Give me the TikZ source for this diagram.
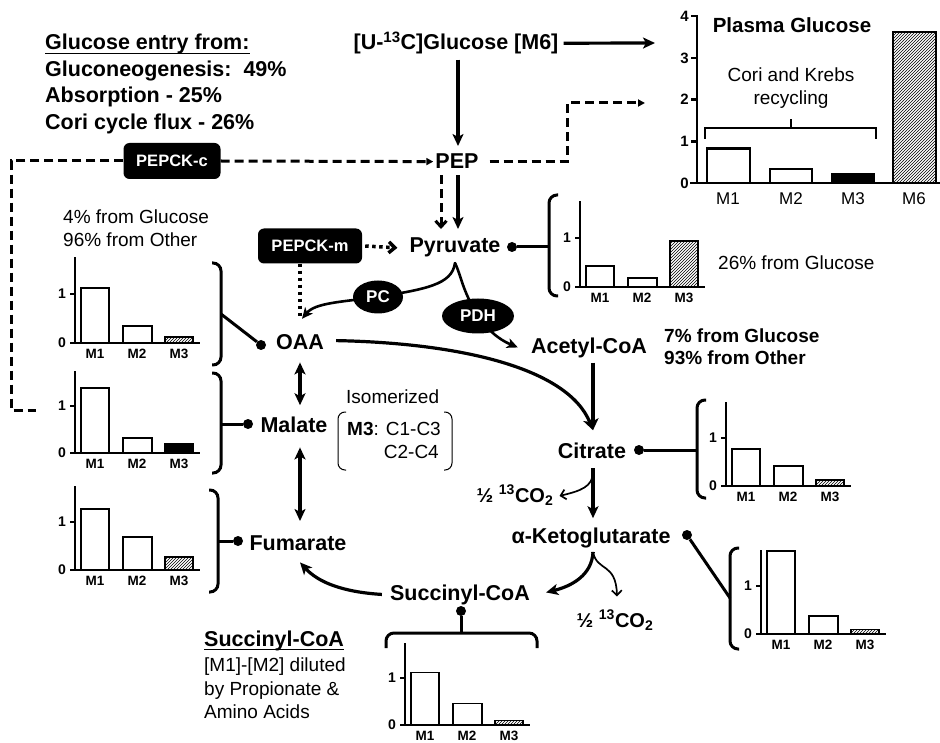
\documentclass[tikz,border=0pt]{standalone}
\usepackage{fontspec}
\setmainfont{Liberation Sans}
\usetikzlibrary{arrows.meta,patterns,shapes.geometric}
\newcommand\mybars[8]{%
 \begin{scope}[shift={(#1,#2)}]
  \draw[barbox] (6,0) rectangle (34,{-#4*#3});
  \draw[barbox] (48,0) rectangle (77,{-#5*#3});
  \draw[barbox,#7] (90,0) rectangle (118,{-#6*#3});
  \draw[chax] (0,0) -- (0,{-1.75*#3});
  \draw[chax] (-5,0) -- (125,0);
  \draw[chax] (-5,{-#3}) -- (0,{-#3});
  \node[ticklab,anchor=east] (#8t0) at (-9,0) {0};
  \node[ticklab,anchor=east] (#8t1) at (-9,{-#3}) {1};
  \node[barlab] (#8m1) at (20,10.5) {M1};
  \node[barlab] (#8m2) at (62,10.5) {M2};
  \node[barlab] (#8m3) at (104,10.5) {M3};
 \end{scope}}
\begin{document}
\begin{tikzpicture}[x=1pt,y=-1pt,
 met/.style={font=\fontsize{21.5}{25}\selectfont\bfseries, inner sep=0pt, anchor=base},
 lnote/.style={font=\fontsize{19}{23}\selectfont, inner sep=0pt, anchor=base west},
 bnote/.style={font=\fontsize{19}{23}\selectfont\bfseries, inner sep=0pt, anchor=base west},
 bhead/.style={font=\fontsize{21.5}{25}\selectfont\bfseries, inner sep=0pt, anchor=base west},
 uline/.style={line width=1.6pt},
 arr/.style={line width=3.2pt, -{Stealth[length=12pt,width=11pt,inset=3pt]}},
 darr/.style={line width=3.2pt, {Stealth[length=12pt,width=11pt,inset=3pt]}-{Stealth[length=12pt,width=11pt,inset=3pt]}},
 carr/.style={line width=2.6pt, -{Stealth[length=11pt,width=10pt,inset=3pt]}},
 tarr/.style={line width=1.7pt, -{Straight Barb[length=5pt,width=10pt]}},
 dsh/.style={line width=3pt, dash pattern=on 9pt off 5pt},
 dtip/.style={-{Triangle[length=7pt,width=7pt]}},
 vtip/.style={-{Straight Barb[length=6pt,width=11pt]}},
 dotl/.style={line width=3.5pt, dash pattern=on 3.5pt off 3.5pt},
 enz/.style={fill=black, text=white, rounded corners=6pt, font=\fontsize{16.5}{18}\selectfont\bfseries, inner sep=0pt, minimum height=36pt},
 ell/.style={ellipse, fill=black, text=white, font=\fontsize{17}{18}\selectfont\bfseries, inner sep=0pt},
 brk/.style={line width=3pt, rounded corners=8pt},
 lol/.style={line width=3pt},
 dotn/.style={circle, fill=black, inner sep=0pt, minimum size=10pt},
 chax/.style={line width=1.6pt},
 barbox/.style={line width=1.6pt, draw=black, fill=white},
 hatch/.style={pattern=north east lines},
 blk/.style={fill=black},
 ticklab/.style={font=\fontsize{14}{14}\selectfont\bfseries, inner sep=0pt},
 barlab/.style={font=\fontsize{13.5}{14}\selectfont\bfseries, inner sep=0pt},
 ptick/.style={font=\fontsize{15}{15}\selectfont\bfseries, inner sep=0pt, anchor=east},
 pbar/.style={line width=2.5pt, draw=black, fill=white},
 plab/.style={font=\fontsize{17}{17}\selectfont, inner sep=0pt},
]
\useasboundingbox (0,0) rectangle (940,743);

% ---------- texts ----------
\node[bhead] (ge0) at (45,50) {Glucose entry from:};
\draw[uline] ([yshift=-3.5pt]ge0.base west) -- ([yshift=-3.5pt]ge0.base east);
\node[bhead] (ge1) at (45,77) {Gluconeogenesis:~~49\%};
\node[bhead] (ge2) at (45,103) {Absorption - 25\%};
\node[bhead] (ge3) at (45,130) {Cori cycle flux - 26\%};

\node[lnote] (og1) at (63,224) {4\% from Glucose};
\node[lnote] (og2) at (63,247) {96\% from Other};
\node[lnote] (pg1) at (718,270) {26\% from Glucose};
\node[bnote] (ag1) at (664,342) {7\% from Glucose};
\node[bnote] (ag2) at (664,365) {93\% from Other};
\node[lnote] (iso) at (346,403) {Isomerized};
\node[lnote] (iso1) at (347,435) {\textbf{M3}: C1-C3};
\node[lnote, anchor=base east] (iso2) at (439,458) {C2-C4};
\draw[line width=1pt, rounded corners=7pt] (346,412) -- (338,412) -- (338,470) -- (346,470);
\draw[line width=1pt, rounded corners=7pt] (444,412) -- (452,412) -- (452,470) -- (444,470);

\node[bhead] (sn0) at (204,646) {Succinyl-CoA};
\draw[uline] ([yshift=-3.5pt]sn0.base west) -- ([yshift=-3.5pt]sn0.base east);
\node[lnote] (sn1) at (204,671) {[M1]-[M2] diluted};
\node[lnote] (sn2) at (204,695) {by Propionate \&};
\node[lnote] (sn3) at (204,718) {Amino Acids};

% ---------- metabolites ----------
\node[met] (glc) at (456,50) {[U-\textsuperscript{13}C]Glucose [M6]};
\node[met] (pep) at (457,169) {PEP};
\node[met] (pyr) at (455,253) {Pyruvate};
\node[met] (oaa) at (300,350) {OAA};
\node[met] (mal) at (294,432) {Malate};
\node[met] (fum) at (298,550) {Fumarate};
\node[met] (acoa) at (589,353) {Acetyl-CoA};
\node[met] (cit) at (592,458) {Citrate};
\node[met] (akg) at (591,543) {α-Ketoglutarate};
\node[met] (scoa) at (460,600) {Succinyl-CoA};
\node[met, font=\fontsize{20}{22}\selectfont\bfseries] (co2a) at (515,502) {½ \textsuperscript{13}CO\textsubscript{2}};
\node[met, font=\fontsize{20}{22}\selectfont\bfseries] (co2b) at (615,627) {½ \textsuperscript{13}CO\textsubscript{2}};

% ---------- enzymes ----------
\node[enz, minimum width=97pt] (pepckc) at (172,161) {PEPCK-c};
\node[enz, minimum width=104pt, minimum height=35pt] (pepckm) at (310,246) {PEPCK-m};

% ---------- coordinates ----------
\coordinate (plasmaIn) at (655,43);
\coordinate (plasmaIn2) at (645,103);
\coordinate (bend) at (567,103);
\coordinate (lc1) at (11,161);
\coordinate (lc2) at (11,410);
\coordinate (lc3) at (36,410);
\coordinate (pcpos) at (378,297);
\coordinate (pdhpos) at (478,316);
\coordinate (split) at (455,263);
\coordinate (citb) at (593,472);
\coordinate (akgb) at (593,552);

% ---------- main arrows ----------
\draw[arr] ([xshift=5pt]glc.east) -- (plasmaIn);
\draw[arr] ([xshift=2pt,yshift=-5pt]glc.south) -- ([xshift=1pt,yshift=8pt]pep.north);
\draw[arr] ([xshift=1pt,yshift=-6pt]pep.south) -- ([xshift=3pt,yshift=9pt]pyr.north);
\draw[dsh,vtip] ([xshift=-16pt,yshift=-6pt]pep.south) -- ([xshift=-14pt,yshift=9pt]pyr.north);

\draw[dsh] (pepckc.west) -- (lc1) -- (lc2) -- (lc3);
\draw[dsh,dtip] (pepckc.east) -- ([xshift=-2pt]pep.west);
\draw[dsh,dtip] ([xshift=11pt]pep.east) -| (bend) -- (plasmaIn2);

\draw[dotl,vtip] ([xshift=3pt]pepckm.east) -- ([xshift=-12pt]pyr.west);
\draw[dotl] ([xshift=-10pt]pepckm.south) -- ([xshift=0pt,yshift=17pt]oaa.north);

\draw[line width=2.6pt] ([yshift=-4pt]pyr.south) -- (split);
\draw[line width=2.6pt] (split) .. controls (452,285) and (425,289) .. (pcpos);
\draw[carr] (pcpos) .. controls (340,302) and (315,303) .. ([xshift=2pt,yshift=16pt]oaa.north);
\draw[line width=2.6pt] (split) .. controls (461,275) and (462,290) .. (pdhpos);
\draw[carr] (pdhpos) .. controls (492,336) and (505,342) .. ([xshift=-13pt]acoa.west);
\node[ell, minimum width=50pt, minimum height=33pt] (pc) at (pcpos) {PC};
\node[ell, minimum width=72pt, minimum height=35pt] (pdh) at (pdhpos) {PDH};

\draw[arr] ([xshift=12pt,yshift=2pt]oaa.east) .. controls (460,343) and (568,368) .. ([xshift=1pt,yshift=12pt]cit.north);
\draw[arr] ([xshift=4pt,yshift=-5pt]acoa.south) -- ([xshift=1pt,yshift=12pt]cit.north);
\draw[arr] ([xshift=1pt,yshift=-10pt]cit.south) -- ([xshift=2pt,yshift=9pt]akg.north);
\draw[tarr] (citb) .. controls (593,487) and (580,491) .. ([xshift=6pt,yshift=-1pt]co2a.east);
\draw[arr] (akgb) .. controls (592,575) and (572,586) .. ([xshift=16pt,yshift=2pt]scoa.east);
\draw[tarr] (akgb) .. controls (597,572) and (616,562) .. ([xshift=2pt,yshift=13pt]co2b.north);
\draw[line width=3.2pt] ([xshift=2pt,yshift=-4pt]akg.south) -- (akgb);
\draw[arr] ([xshift=-8pt]scoa.west) .. controls (342,592) and (318,582) .. ([xshift=2pt,yshift=-12pt]fum.south);
\draw[darr] ([yshift=-12pt]oaa.south) -- ([xshift=6pt,yshift=11pt]mal.north);
\draw[darr] ([xshift=6pt,yshift=-15pt]mal.south) -- ([xshift=2pt,yshift=14pt]fum.north);

% ---------- lollipops & brackets ----------
\node[dotn] (pyrdot) at (512,247) {};
\coordinate (pyrbr) at (549,247);
\draw[lol] (pyrdot) -- (pyrbr);
\draw[brk] (558,195) -- (549,195) -- (549,296) -- (558,296);

\node[dotn] (oaadot) at (261,345) {};
\coordinate (oaabr) at (221,314);
\draw[lol] (oaadot) -- (oaabr);
\draw[brk] (212,263) -- (221,263) -- (221,365) -- (212,365);

\node[dotn] (maldot) at (248,424) {};
\coordinate (malbr) at (221,424);
\draw[lol] (maldot) -- (malbr);
\draw[brk] (212,373) -- (221,373) -- (221,473) -- (212,473);

\node[dotn] (fumdot) at (238,541) {};
\coordinate (fumbr) at (218,541);
\draw[lol] (fumdot) -- (fumbr);
\draw[brk] (209,490) -- (218,490) -- (218,592) -- (209,592);

\node[dotn] (citdot) at (639,450) {};
\coordinate (citbr) at (697,450);
\draw[lol] (citdot) -- (citbr);
\draw[brk] (706,400) -- (697,400) -- (697,498) -- (706,498);

\node[dotn] (akgdot) at (687,535) {};
\coordinate (akgbr) at (730,598);
\draw[lol] (akgdot) -- (akgbr);
\draw[brk] (739,548) -- (730,548) -- (730,649) -- (739,649);

\node[dotn] (scoadot) at (461,611) {};
\coordinate (scoabr) at (461,633);
\draw[lol] (scoadot) -- (scoabr);
\draw[brk] (386,648) -- (386,633) -- (537,633) -- (537,648);

% ---------- small charts ----------
\mybars{580}{287}{49}{0.43}{0.18}{0.94}{hatch}{pyc}
\mybars{75}{343}{49}{1.12}{0.35}{0.12}{hatch}{oac}
\mybars{75}{453}{47}{1.38}{0.32}{0.19}{blk}{mac}
\mybars{75}{570}{48}{1.27}{0.69}{0.27}{hatch}{fuc}
\mybars{726}{486}{48}{0.77}{0.42}{0.13}{hatch}{cic}
\mybars{761}{634}{48}{1.73}{0.38}{0.09}{hatch}{akc}
\mybars{405}{725}{47}{1.12}{0.46}{0.10}{hatch}{scc}

% ---------- plasma glucose chart ----------
\draw[pbar] (707,183) rectangle (750,{183-0.83*41.7});
\draw[pbar] (770,183) rectangle (812,{183-0.34*41.7});
\draw[pbar, fill=black] (832,183) rectangle (874,{183-0.22*41.7});
\draw[pbar, pattern=north east lines] (893,183) rectangle (936,{183-3.62*41.7});
\draw[line width=2.5pt] (697,183) -- (697,15);
\draw[line width=2.5pt] (690,183) -- (940,183);
\foreach \k in {1,2,3,4} \draw[line width=2.5pt] (691,{183-\k*41.7}) -- (697,{183-\k*41.7});
\foreach \k in {0,1,2,3,4} \node[ptick] (pt\k) at (689,{183-\k*41.7}) {\k};
\node[plab] (pm1) at (728,199) {M1};
\node[plab] (pm2) at (791,199) {M2};
\node[plab] (pm3) at (853,199) {M3};
\node[plab] (pm6) at (914,199) {M6};
\node[font=\fontsize{20.5}{22}\selectfont\bfseries, inner sep=0pt, anchor=base] (ptitle) at (792,33) {Plasma Glucose};
\node[font=\fontsize{19}{22}\selectfont, inner sep=0pt, anchor=base] (pcori) at (791,82) {Cori and Krebs};
\node[font=\fontsize{19}{22}\selectfont, inner sep=0pt, anchor=base] (prec) at (791,105) {recycling};
\draw[line width=2.5pt] (705,139) -- (705,128) -- (876,128) -- (876,139);
\draw[line width=2.5pt] (791,128) -- (791,119);
\end{tikzpicture}
\end{document}
